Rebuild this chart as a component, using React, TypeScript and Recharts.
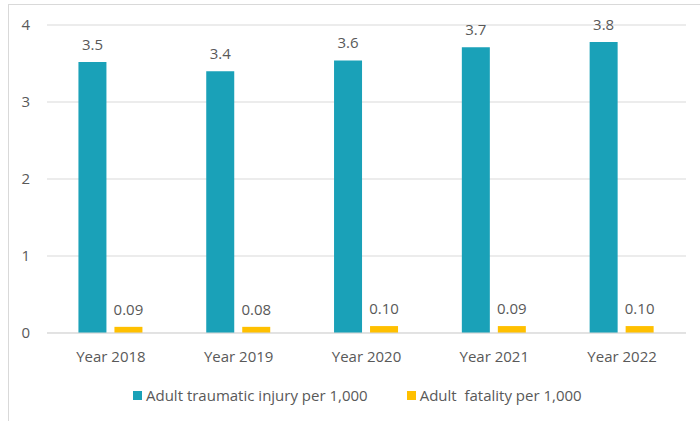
import { BarChart, Bar, XAxis, YAxis, CartesianGrid, Legend, LabelList } from 'recharts'

const years = ['Year 2018', 'Year 2019', 'Year 2020', 'Year 2021', 'Year 2022']
const injuryValues = [3.52, 3.4, 3.54, 3.71, 3.78]
const injuryLabels = ['3.5', '3.4', '3.6', '3.7', '3.8']
const fatalityValues = [0.08, 0.08, 0.09, 0.09, 0.09]
const fatalityLabels = ['0.09', '0.08', '0.10', '0.09', '0.10']
const yTicks = [0, 1, 2, 3, 4]

const TEAL = '#1AA1B8'
const YELLOW = '#FFC000'
const TEXT = '#595959'
const GRID = '#d9d9d9'
const FONT = '"Open Sans", sans-serif'
const FS = 15

const chartData = years.map((year, i) => ({
  year,
  injury: injuryValues[i],
  fatality: fatalityValues[i],
  injuryLabel: injuryLabels[i],
  fatalityLabel: fatalityLabels[i],
}))

function LegendContent() {
  const item = (color: string, text: string) => (
    <div style={{ display: 'flex', alignItems: 'center' }}>
      <span style={{ width: 9, height: 9, background: color, marginRight: 4 }} />
      <span style={{ whiteSpace: 'pre' }}>{text}</span>
    </div>
  )
  return (
    <div
      style={{
        display: 'flex',
        alignItems: 'center',
        height: 28,
        paddingLeft: 133,
        gap: 39,
        fontFamily: FONT,
        fontSize: FS,
        color: TEXT,
      }}
    >
      {item(TEAL, 'Adult traumatic injury per 1,000')}
      {item(YELLOW, 'Adult  fatality per 1,000')}
    </div>
  )
}

export default function App() {
  return (
    <div style={{ position: 'absolute', top: 0, left: 0, width: 700, height: 421, background: '#fff' }}>
      <div
        style={{
          position: 'absolute',
          top: 4,
          left: 8,
          width: 692,
          height: 417,
          borderTop: `1px solid ${GRID}`,
          borderLeft: `1px solid ${GRID}`,
          boxSizing: 'border-box',
        }}
      />
      <BarChart
        width={700}
        height={421}
        data={chartData}
        margin={{ top: 25, right: 14, bottom: 12, left: 0 }}
        barCategoryGap="24.6%"
        barGap={8}
        style={{ fontFamily: FONT }}
      >
        <CartesianGrid vertical={false} stroke={GRID} />
        <XAxis
          dataKey="year"
          height={48}
          tickLine={false}
          axisLine={{ stroke: GRID }}
          tickMargin={12}
          tick={{ fill: TEXT, fontSize: FS }}
        />
        <YAxis
          width={47}
          domain={[0, 4]}
          ticks={yTicks}
          axisLine={false}
          tickLine={false}
          tickMargin={11}
          tick={{ fill: TEXT, fontSize: FS }}
        />
        <Legend verticalAlign="bottom" height={28} content={<LegendContent />} />
        <Bar dataKey="injury" fill={TEAL} isAnimationActive={false}>
          <LabelList dataKey="injuryLabel" position="top" offset={12} fill={TEXT} fontSize={FS} />
        </Bar>
        <Bar dataKey="fatality" fill={YELLOW} isAnimationActive={false}>
          <LabelList dataKey="fatalityLabel" position="top" offset={12} fill={TEXT} fontSize={FS} />
        </Bar>
      </BarChart>
    </div>
  )
}
